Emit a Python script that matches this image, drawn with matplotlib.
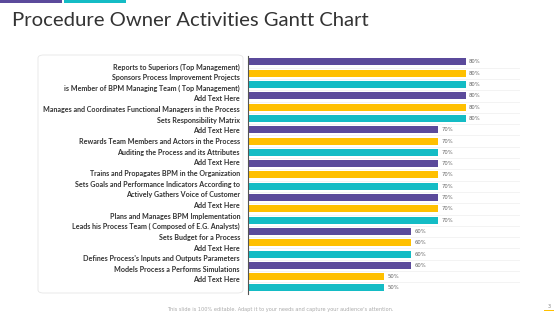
import matplotlib.pyplot as plt
from matplotlib.patches import FancyBboxPatch, Rectangle

tasks = [
    'Reports to Superiors (Top Management)',
    'Sponsors Process Improvement Projects',
    'is Member of BPM Managing Team ( Top Management)',
    'Add Text Here',
    'Manages and Coordinates Functional Managers in the Process',
    'Sets Responsibility Matrix',
    'Add Text Here',
    'Rewards Team Members and Actors in the Process',
    'Auditing the Process and its Attributes',
    'Add Text Here',
    'Trains and Propagates BPM in the Organization',
    'Sets Goals and Performance Indicators According to',
    'Actively Gathers Voice of Customer',
    'Add Text Here',
    'Plans and Manages BPM Implementation',
    'Leads his Process Team ( Composed of E.G. Analysts)',
    'Sets Budget for a Process',
    'Add Text Here',
    'Defines Process\'s Inputs and Outputs Parameters',
    'Models Process a Performs Simulations',
    'Add Text Here',
]
values = [80, 80, 80, 80, 80, 80, 70, 70, 70, 70, 70, 70, 70, 70, 70,
          60, 60, 60, 60, 50, 50]
palette = ['#5B4A9B', '#FFC000', '#14BCC5']

W, H = 560, 315
fig = plt.figure(figsize=(5.6, 3.15), dpi=100)
fig.patch.set_facecolor('white')

# top decoration strips
fig.add_artist(Rectangle((0, 1 - 3 / H), 62 / W, 3 / H, transform=fig.transFigure,
                         color=palette[0], lw=0))
fig.add_artist(Rectangle((64 / W, 1 - 3 / H), 62 / W, 3 / H, transform=fig.transFigure,
                         color=palette[2], lw=0))

fig.text(12 / W, 1 - 20 / H, 'Procedure Owner Activities Gantt Chart',
         fontsize=14.6, color='#333333', va='center', ha='left', family='Lato')

# label box
fig.add_artist(FancyBboxPatch((38 / W, 1 - 293 / H), 205 / W, 238 / H,
                              boxstyle='round,pad=0,rounding_size=0.01',
                              transform=fig.transFigure, facecolor='white',
                              edgecolor='#e6e6e6', lw=0.6))
n = len(tasks)
for i, t in enumerate(tasks):
    y = 67 + i * (280 - 67) / (n - 1)
    fig.text(240 / W, 1 - y / H, t, fontsize=5.1, color='#333333',
             ha='right', va='center', family='Lato', fontweight='bold')

ax = fig.add_axes([248 / W, 1 - 293.6 / H, 272 / W, 237.3 / H])
ypos = list(range(n))
colors = [palette[i % 3] for i in range(n)]
ax.barh(ypos, values, height=0.62, color=colors, zorder=2)
for y, v in zip(ypos, values):
    ax.text(v + 1.2, y, f'{v}%', fontsize=3.8, color='#666666', va='center')

ax.set_xlim(0, 100)
ax.set_ylim(n - 0.5, -0.5)
ax.set_yticks([i + 0.5 for i in range(n - 1)])
ax.set_yticklabels([])
ax.set_xticks([])
ax.tick_params(length=0)
ax.grid(axis='y', color='#eeeeee', lw=0.5, zorder=0)
for s in ['top', 'right', 'bottom']:
    ax.spines[s].set_visible(False)
ax.spines['left'].set_color('#555555')
ax.spines['left'].set_linewidth(0.8)

fig.text(280 / W, 1 - 309 / H,
         'This slide is 100% editable. Adapt it to your needs and capture your audience\'s attention.',
         fontsize=3.6, color='#aaaaaa', ha='center', va='center')
fig.text(549 / W, 1 - 306 / H, '3', fontsize=3.6, color='#888888', ha='center', va='center')
fig.add_artist(Rectangle((544 / W, 1 - 311 / H), 10 / W, 1 / H, transform=fig.transFigure,
                         color=palette[1], lw=0))

plt.savefig('out.png', dpi=100)
